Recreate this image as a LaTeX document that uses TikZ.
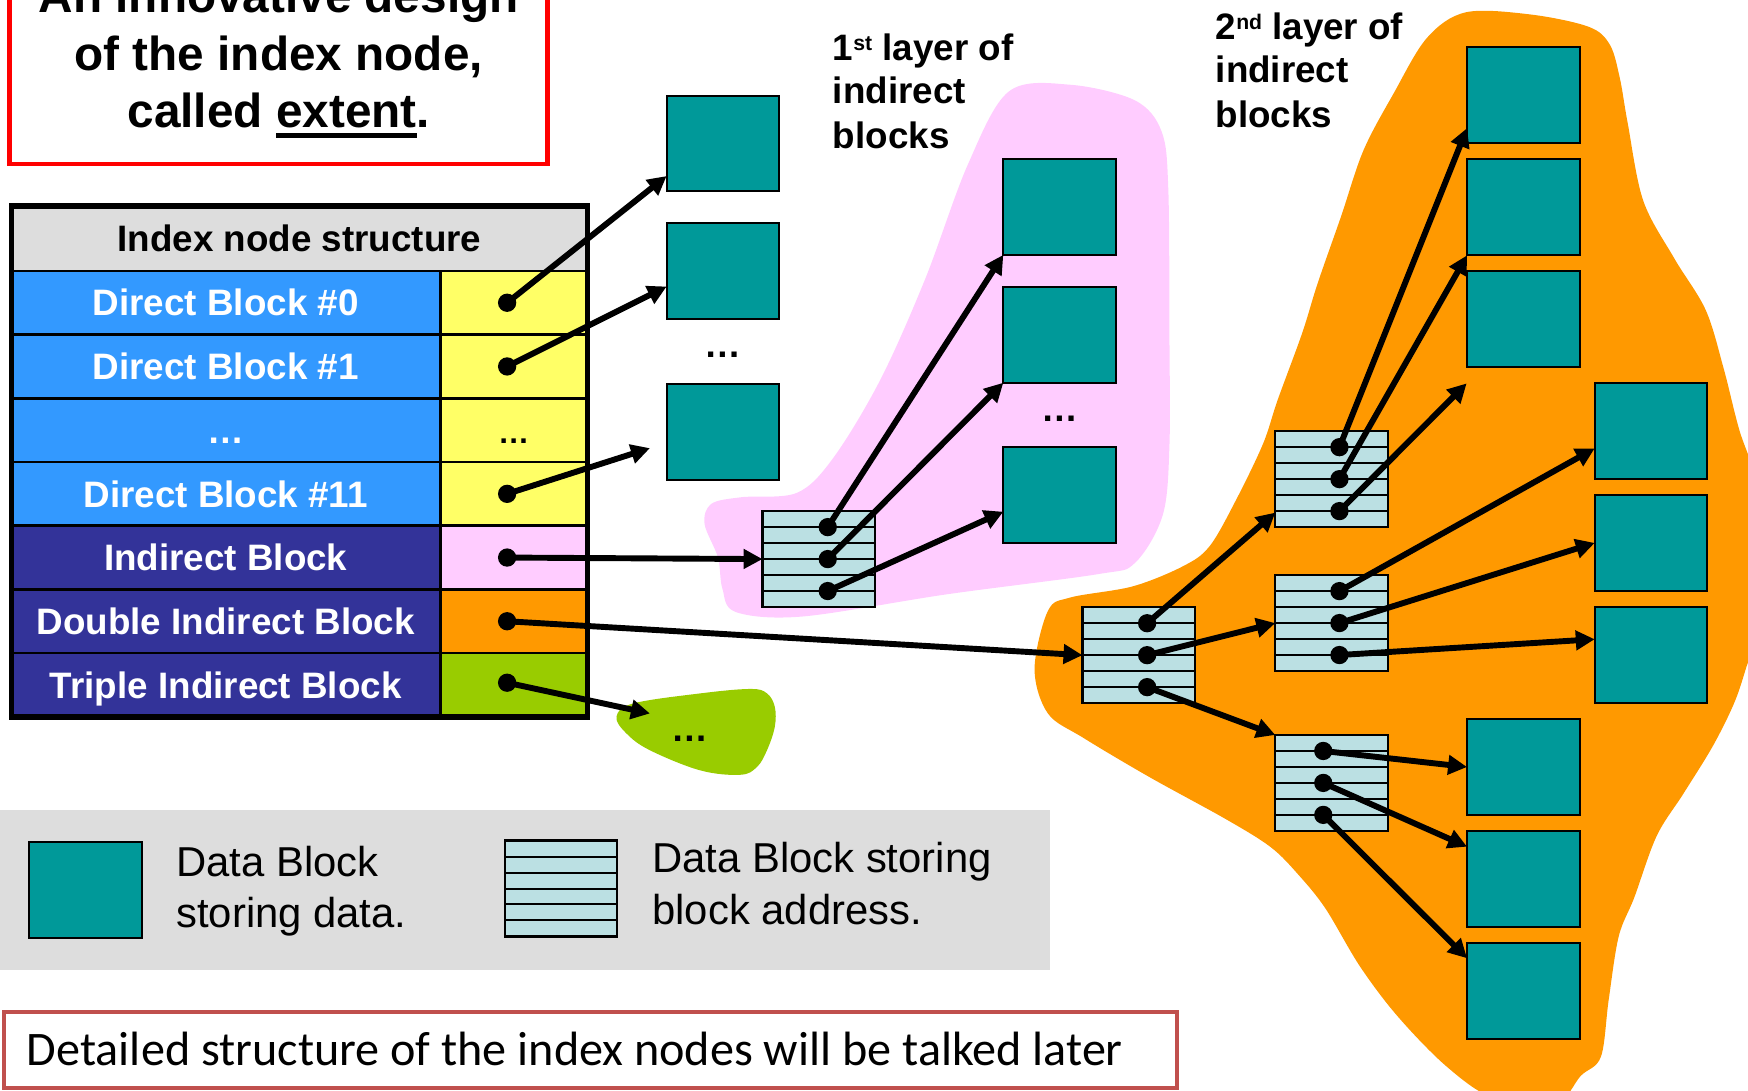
\documentclass[tikz,border=0pt]{standalone}
\usepackage{fontspec}
\setmainfont{Liberation Sans}
\newfontfamily\notefont{Carlito}
\usetikzlibrary{arrows.meta,calc}

\definecolor{datateal}{HTML}{009999}
\definecolor{addrcyan}{HTML}{BBE0E3}
\definecolor{pinkzone}{HTML}{FFCCFF}
\definecolor{orangezone}{HTML}{FF9900}
\definecolor{greenzone}{HTML}{99CC00}
\definecolor{directblue}{HTML}{3399FF}
\definecolor{indirectblue}{HTML}{333399}
\definecolor{ptryellow}{HTML}{FFFF66}
\definecolor{headgray}{HTML}{DDDDDD}
\definecolor{notered}{HTML}{C0504D}

\newcommand\cellfont{\fontsize{33}{40}\selectfont\bfseries}
\newcommand\titlefont{\fontsize{42.8}{52}\selectfont\bfseries}
\newcommand\legfont{\fontsize{37.5}{45}\selectfont}
\newcommand\ordsup[1]{\raisebox{9pt}{\fontsize{19}{19}\selectfont #1}}

\newsavebox\ulbox
\newcommand\thickul[1]{\sbox\ulbox{#1}\rlap{\rule[-9pt]{\wd\ulbox}{4.3pt}}\usebox\ulbox}

% block holding addresses: name, x, y, horizontal offset of its pointer dots
\newcommand\addrblock[4]{%
  \node[addrblk] (#1) at (#2,#3) {};
  \foreach \k in {1,...,5}
    \draw[addrline] ($(#1.north west)+(0,\k*14.333)$) -- ($(#1.north east)+(0,\k*14.333)$);
  \coordinate (#1-1) at ($(#1.center)+(#4,-28.667)$);
  \coordinate (#1-2) at ($(#1.center)+(#4,0)$);
  \coordinate (#1-3) at ($(#1.center)+(#4,28.667)$);
}

\begin{document}
\begin{tikzpicture}[x=1pt,y=-1pt,
  datablk/.style={rectangle, fill=datateal, draw=black, line width=1.8pt,
    minimum width=101pt, minimum height=86pt, inner sep=0pt, outer sep=0pt},
  addrblk/.style={rectangle, fill=addrcyan, draw=black, line width=2pt,
    minimum width=101pt, minimum height=86pt, inner sep=0pt, outer sep=0pt},
  addrline/.style={line width=1.8pt, black},
  ptr/.style={line width=5.3pt, -{Triangle[length=17pt,width=17pt]}},
  lcell/.style={rectangle, draw=black, line width=2.5pt, minimum width=384.5pt,
    minimum height=57.14pt, inner sep=0pt, outer sep=0pt, text=white,
    font=\cellfont, text height=23.6pt, text depth=0pt},
  rcell/.style={rectangle, draw=black, line width=2.5pt, minimum width=132.2pt,
    minimum height=57.14pt, inner sep=0pt, outer sep=0pt,
    font=\cellfont, text height=23.6pt, text depth=0pt},
  lbl/.style={anchor=base west, inner sep=0pt, font=\cellfont},
  dotsym/.style={anchor=base, inner sep=0pt, font=\cellfont},
  titleline/.style={anchor=base, inner sep=0pt, font=\titlefont},
  legtxt/.style={anchor=base west, inner sep=0pt, font=\legfont},
  ptdot/.style={fill=black}
]
\path[use as bounding box] (0,0) rectangle (1568,978);
\clip (0,0) rectangle (1568,978);

% ---- coloured zones ----
\fill[pinkzone] plot[smooth cycle, tension=0.55] coordinates {
  (905,82) (960,76) (1018,90) (1042,118) (1048,170) (1049,300) (1049,400)
  (1043,462) (1018,505) (985,515) (850,533) (720,553) (660,549) (648,528)
  (644,500) (632,470) (638,452) (665,446) (715,442) (748,410) (790,340)
  (830,250) (868,148)};
\fill[orangezone] plot[smooth cycle, tension=0.55] coordinates {
  (1315,11) (1373,13) (1425,24) (1444,40) (1453,70) (1460,110) (1474,180)
  (1502,232) (1530,278) (1546,330) (1560,385) (1580,450) (1580,550)
  (1566,600) (1555,632) (1536,670) (1510,712) (1486,750) (1466,805)
  (1452,840) (1443,897) (1436,948) (1418,965) (1395,990) (1340,985)
  (1298,957) (1254,912) (1220,867) (1189,815) (1165,785) (1140,760)
  (1100,735) (1031,697) (972,662) (940,640) (928,600) (940,548) (960,536)
  (1016,526) (1061,508) (1085,490) (1109,448) (1133,398) (1146,359)
  (1168,299) (1182,254) (1203,194) (1223,135) (1250,84) (1280,34)};
\fill[greenzone] plot[smooth cycle, tension=0.6] coordinates {
  (553,643) (568,631) (628,622) (673,618) (688,622) (695,634) (695,652)
  (688,673) (679,688) (664,695) (628,691) (583,673) (562,658)};
\node[dotsym] (gdots) at (619,665) {\ldots};

% ---- title ----
\draw[red, line width=4pt, fill=white] (8.6,-20) rectangle (491,147);
\node[titleline] (t1) at (250,10.8) {An innovative design};
\node[titleline] (t2) at (250,62.8) {of the index node,};
\node[titleline] (t3) at (250,114.8) {called \thickul{extent}.};

% ---- index node table ----
\node[lcell, fill=headgray, text=black, minimum width=516.7pt, minimum height=58pt]
  (hdr) at (268.65,214) {Index node structure};
\node[lcell, fill=directblue] (r0) at (202.55,271.57) {Direct Block \#0};
\node[lcell, fill=directblue] (r1) at (202.55,328.71) {Direct Block \#1};
\node[lcell, fill=directblue] (r2) at (202.55,385.85) {\ldots};
\node[lcell, fill=directblue] (r3) at (202.55,442.99) {Direct Block \#11};
\node[lcell, fill=indirectblue] (r4) at (202.55,500.13) {Indirect Block};
\node[lcell, fill=indirectblue] (r5) at (202.55,557.27) {Double Indirect Block};
\node[lcell, fill=indirectblue] (r6) at (202.55,614.41) {Triple Indirect Block};
\node[rcell, fill=ptryellow] (p0) at (460.9,271.57) {};
\node[rcell, fill=ptryellow] (p1) at (460.9,328.71) {};
\node[rcell, fill=ptryellow, font=\fontsize{28}{30}\selectfont\bfseries] (p2) at (460.9,385.85) {\ldots};
\node[rcell, fill=ptryellow] (p3) at (460.9,442.99) {};
\node[rcell, fill=pinkzone] (p4) at (460.9,500.13) {};
\node[rcell, fill=orangezone] (p5) at (460.9,557.27) {};
\node[rcell, fill=greenzone] (p6) at (460.9,614.41) {};
\draw[line width=5pt] (hdr.north west) rectangle (p6.south east);

\coordinate (d0) at ($(p0.center)+(-6,0)$);
\coordinate (d1) at ($(p1.center)+(-6,0)$);
\coordinate (d11) at ($(p3.center)+(-6,0)$);
\coordinate (dind) at ($(p4.center)+(-6,0)$);
\coordinate (ddbl) at ($(p5.center)+(-6,0)$);
\coordinate (dtri) at ($(p6.center)+(-6,-2)$);

% ---- direct data blocks ----
\node[datablk] (dd0) at (648.5,128.7) {};
\node[datablk] (dd1) at (648.5,243) {};
\node[datablk] (dd11) at (648.5,387.2) {};
\node[dotsym] (ddots) at (648.5,321) {\ldots};

% ---- first layer of indirect blocks ----
\node[datablk] (fa) at (950.5,185.6) {};
\node[datablk] (fb) at (950.5,300.3) {};
\node[datablk] (fc) at (950.5,444) {};
\node[dotsym] (fdots) at (950.5,378) {\ldots};
\addrblock{ib}{734.5}{501.5}{8}

\node[lbl] (lay1a) at (747,53.9) {1\ordsup{st} layer of};
\node[lbl] (lay1b) at (747,93) {indirect};
\node[lbl] (lay1c) at (747,132.8) {blocks};

% ---- second layer of indirect blocks ----
\addrblock{dA}{1021.5}{587.7}{7.5}
\addrblock{eA}{1194.5}{429.8}{7}
\addrblock{eB}{1194.5}{558.9}{7}
\addrblock{eC}{1194.5}{702.3}{-7.5}
\node[datablk] (s1) at (1366.5,85.5) {};
\node[datablk] (s2) at (1366.5,186) {};
\node[datablk] (s3) at (1366.5,286.5) {};
\node[datablk] (s4) at (1481,386.8) {};
\node[datablk] (s5) at (1481,487) {};
\node[datablk] (s6) at (1481,587.4) {};
\node[datablk] (s7) at (1366.5,688) {};
\node[datablk] (s8) at (1366.5,788.5) {};
\node[datablk] (s9) at (1366.5,889) {};

\node[lbl] (lay2a) at (1090.4,35.3) {2\ordsup{nd} layer of};
\node[lbl] (lay2b) at (1090.4,74.2) {indirect};
\node[lbl] (lay2c) at (1090.4,114.2) {blocks};

% ---- pointers ----
\coordinate (d11end) at (583,402);
\coordinate (tend) at (583,640);
\coordinate (eAend) at (1315.6,343.9);
\draw[ptr] (d0) -- ($(dd0.south west)+(0,-13.8)$);
\draw[ptr] (d1) -- ($(dd1.south west)+(0,-29)$);
\draw[ptr] (d11) -- (d11end);
\draw[ptr] (dind) -- (ib.west);
\draw[ptr] (ddbl) -- (dA.west);
\draw[ptr] (dtri) -- (tend);
\draw[ptr] (ib-1) -- (fa.south west);
\draw[ptr] (ib-2) -- (fb.south west);
\draw[ptr] (ib-3) -- ($(fc.west)+(0,15)$);
\draw[ptr] (dA-1) -- ($(eA.south west)+(0,-13)$);
\draw[ptr] (dA-2) -- (eB.west);
\draw[ptr] (dA-3) -- (eC.north west);
\draw[ptr] (eA-1) -- ($(s1.south west)+(0,-13.6)$);
\draw[ptr] (eA-2) -- (s2.south west);
\draw[ptr] (eA-3) -- (eAend);
\draw[ptr] (eB-1) -- ($(s4.west)+(0,15.4)$);
\draw[ptr] (eB-2) -- (s5.west);
\draw[ptr] (eB-3) -- ($(s6.west)+(0,-14)$);
\draw[ptr] (eC-1) -- (s7.west);
\draw[ptr] (eC-2) -- ($(s8.north west)+(0,14)$);
\draw[ptr] (eC-3) -- ($(s9.north west)+(0,13.6)$);
\foreach \p in {d0,d1,d11,dind,ddbl,dtri,ib-1,ib-2,ib-3,dA-1,dA-2,dA-3,
                eA-1,eA-2,eA-3,eB-1,eB-2,eB-3,eC-1,eC-2,eC-3}
  \fill[ptdot] (\p) circle (8.2pt);

% ---- legend ----
\fill[headgray] (0,727) rectangle (941.6,870);
\node[datablk] (legdata) at (76.8,798.4) {};
\addrblock{legaddr}{503.2}{797}{0}
\node[legtxt] (lg1) at (158,786.6) {Data Block};
\node[legtxt] (lg2) at (158,831.7) {storing data.};
\node[legtxt] (lg3) at (585,783) {Data Block storing};
\node[legtxt] (lg4) at (585,829.7) {block address.};

% ---- note ----
\draw[notered, line width=3.6pt] (3.4,907.5) rectangle (1055.7,975.7);
\node[anchor=base west, inner sep=0pt, font=\notefont\fontsize{43.2}{50}\selectfont]
  (note) at (24,956) {Detailed structure of the index nodes will be talked later};
\end{tikzpicture}
\end{document}
